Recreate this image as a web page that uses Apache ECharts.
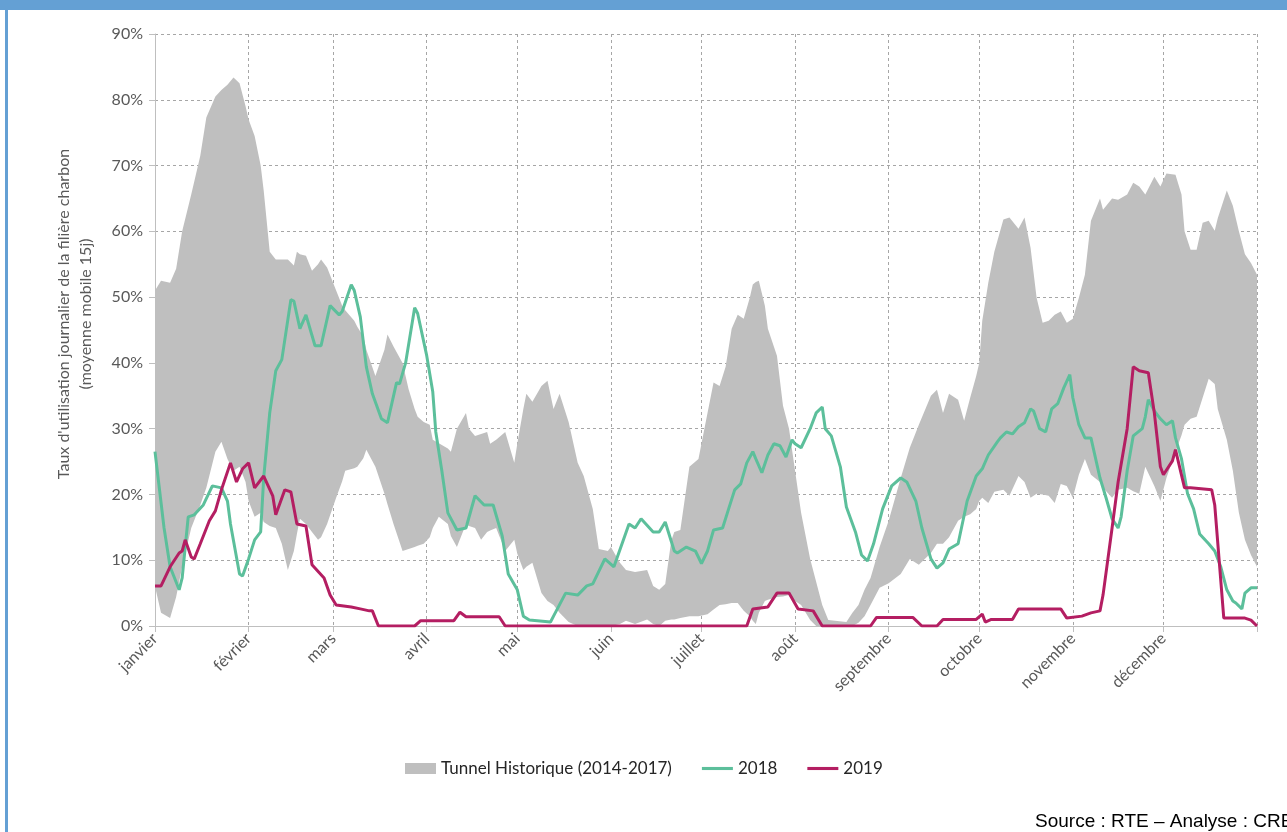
<!DOCTYPE html>
<html>
<head>
<meta charset="utf-8">
<style>
  html, body { margin: 0; padding: 0; background: #fff; }
  #main { width: 1287px; height: 832px; }
</style>
<script src="https://cdn.jsdelivr.net/npm/echarts@6/dist/echarts.min.js"></script>
</head>
<body>
<div id="main"></div>
<script>
var monthNames = ['janvier', 'février', 'mars', 'avril', 'mai', 'juin', 'juillet', 'août', 'septembre', 'octobre', 'novembre', 'décembre'];
var monthStarts = [0, 31, 59, 90, 120, 151, 181, 212, 243, 273, 304, 334];

// tunnel historique 2014-2017 (min / max), day of year
var tunnelDays = [0, 2, 5, 7, 9, 12, 15, 17, 20, 22, 24, 26, 28, 30, 31, 33, 35, 36, 38, 40, 42, 44, 46, 47, 48, 50, 52, 54, 55, 57,
  60, 62, 63, 66, 67, 69, 70, 73, 76, 77, 79, 82, 84, 86, 87, 89, 91, 92, 94, 97, 98, 100, 103, 104, 106, 108, 110, 111, 113, 116,
  119, 120, 122, 123, 125, 128, 130, 132, 134, 137, 140, 142, 145, 147, 150, 151, 154, 156, 159, 163, 165, 167, 169, 171, 172, 174, 177, 180,
  183, 185, 187, 189, 191, 193, 195, 197, 198, 199, 200, 202, 203, 206, 208, 210, 212, 214, 217, 219, 221, 223, 229, 231, 233, 235, 237,
  240, 243, 247, 250, 253, 257, 259, 261, 263, 266, 268, 270, 272, 273, 274, 276, 278, 281, 283, 286, 288, 290, 292, 294, 296, 298,
  300, 302, 304, 306, 308, 310, 313, 314, 317, 319, 322, 324, 326, 328, 331, 333, 335, 338, 340, 341, 343, 345, 347, 349, 351, 352,
  355, 357, 359, 361, 363, 365];
var tunnelHigh = [51, 52.5, 52.2, 54.3, 60, 65.6, 71.5, 77.3, 80.5, 81.5, 82.3, 83.4, 82.5, 79, 77, 74.5, 70, 66.2, 56.9, 55.7, 55.7, 55.7, 54.8, 56.9, 56.5, 56.3, 54, 55, 55.7, 54.5,
  51, 48.7, 48, 46.4, 45.5, 44, 42, 38, 42, 44.3, 42.5, 40, 36, 33, 31.8, 31, 30.6, 28.3, 27.8, 27, 26.5, 30, 32.4, 30, 28.9, 29.2, 29.5, 27.7, 28.3, 29.5,
  24.8, 27.7, 33, 35.3, 34.1, 36.5, 37.3, 33, 35.3, 31, 24.8, 22.8, 17.8, 11.7, 11.4, 12, 9.6, 8.5, 8.2, 8.5, 6.1, 5.5, 6.4, 13, 14.3, 14.6, 24.2, 25.4,
  32.4, 37, 36.5, 39.4, 45.2, 47.3, 46.7, 49.9, 51.9, 52.3, 52.5, 48.7, 45.2, 41.1, 33.5, 30, 23.6, 17.2, 10.2, 6.7, 3.2, 0.9, 0.6, 2, 3.2, 5.5, 7.3,
  12, 16, 22.5, 27.1, 30.6, 35, 35.9, 32.4, 35.3, 34.4, 31.2, 34.7, 38, 40, 46.4, 52.2, 56.9, 61.8, 62.1, 60.4, 62.1, 57.5, 49.9, 46.1, 46.4, 47.3,
  47.8, 46.1, 46.7, 49.9, 53.4, 61.6, 65, 63.3, 65, 64.8, 65.6, 67.4, 66.8, 65.6, 68.3, 66.8, 68.8, 68.6, 65.6, 60, 57.2, 57.2, 61.3, 61.6, 60.1, 62,
  66.2, 63.9, 60, 56.5, 55.2, 53.4];
var tunnelLow = [6, 2, 1.2, 4.4, 9, 14.9, 18.4, 21, 26.5, 28, 25.4, 23.6, 24.2, 21.9, 19, 16.6, 17.2, 15.8, 15.2, 14.9, 12.5, 8.5, 11.4, 14, 16.3, 15.5, 14.3, 13.1, 13.5, 15.5,
  19.5, 22, 23.6, 24, 24.2, 25.5, 26.8, 24.2, 20.1, 18.5, 15.5, 11.4, 11.7, 12, 12.2, 12.5, 13.5, 14.9, 16.6, 15.5, 13.7, 12, 15.5, 15.2, 14.9, 13.1, 14.3, 14.5, 14.9, 11.4,
  13.1, 11, 8.5, 9, 9.6, 5, 3.8, 3.2, 2, 0.6, 0, 0, 0, 0, 0, 0, 0.3, 0.8, 0.3, 1, 0.3, 0, 0.8, 1, 1, 1.2, 1.5, 1.5,
  1.8, 2.5, 3.2, 3.3, 3.5, 3.5, 2.3, 1.5, 0.8, 0.3, 2, 3.8, 4, 4.4, 4.5, 4.7, 3.8, 3.2, 0.9, 0, 0, 0, 0, 0, 0.5, 1.5, 3.2,
  5.8, 6.5, 7.9, 10.2, 9.3, 11.1, 12.5, 12.5, 13.5, 16, 16.6, 17, 17.8, 19, 19.5, 18.7, 20.4, 20.7, 19.8, 22.8, 21.9, 19.5, 20.1, 20, 19.8, 18.7,
  21.6, 21.3, 19.5, 23, 25.4, 23, 21.9, 21, 19.5, 20.7, 21, 20.5, 20.1, 24.2, 21.3, 19, 22.5, 26.5, 29, 30.6, 31.5, 31.8, 34.7, 37.6, 36.8, 33,
  28.3, 23.6, 17.2, 13.1, 10.8, 9];

var days2018 = [0, 3, 5, 8, 9, 11, 13, 16, 19, 22, 24, 25, 28, 29, 31, 33, 35, 36, 38, 40, 42, 45, 46, 48, 50, 53, 55, 58, 61, 62,
  65, 66, 68, 70, 72, 75, 77, 80, 81, 83, 86, 87, 90, 92, 93, 95, 97, 100, 103, 106, 109, 112, 115, 117, 120, 122, 124, 131, 132, 136,
  140, 143, 145, 149, 152, 157, 159, 161, 165, 167, 169, 172, 173, 176, 179, 181, 183, 185, 188, 190, 192, 194, 196, 198, 199, 201, 203, 205, 207, 209,
  211, 212, 214, 217, 219, 221, 222, 224, 227, 229, 232, 234, 236, 238, 241, 244, 247, 249, 252, 254, 257, 259, 261, 263, 266, 269, 272, 274, 276, 279,
  280, 282, 284, 286, 288, 290, 291, 293, 295, 297, 299, 301, 303, 304, 306, 308, 310, 313, 315, 317, 319, 320, 322, 324, 327, 328, 329, 331, 333, 335,
  337, 338, 340, 342, 344, 346, 349, 351, 353, 355, 357, 358, 360, 361, 363, 365];
var values2018 = [26.5, 14.9, 9, 5.5, 7.3, 16.6, 16.9, 18.4, 21.3, 21, 19, 15.5, 7.9, 7.6, 10.2, 13.1, 14.3, 22.5, 32.4, 38.8, 40.5, 49.6, 49.4, 45.2, 47.3, 42.6, 42.6, 48.7, 47.3, 47.8,
  51.9, 51, 47, 39.4, 35.3, 31.5, 30.9, 37, 36.8, 40, 48.4, 47.5, 41.1, 35.6, 29.5, 23.6, 17.2, 14.6, 14.9, 19.8, 18.4, 18.4, 13.7, 7.9, 5.5, 1.5, 0.9, 0.6, 1.5, 5,
  4.7, 6.1, 6.4, 10.2, 9, 15.5, 14.9, 16.3, 14.3, 14.3, 15.8, 11.4, 11.1, 12, 11.4, 9.5, 11.4, 14.6, 14.9, 17.8, 20.7, 21.6, 24.8, 26.5, 25.4, 23.3, 26, 27.7, 27.4, 25.7,
  28.3, 27.7, 27.1, 30, 32.4, 33.3, 30, 28.9, 24.2, 18.1, 14.3, 10.8, 9.9, 12.5, 17.8, 21.3, 22.5, 21.9, 19, 14.9, 10.2, 8.8, 9.6, 11.7, 12.5, 19, 22.8, 23.9, 26, 28,
  28.6, 29.5, 29.2, 30.3, 30.9, 33, 32.7, 30, 29.5, 33, 33.8, 36.2, 38.2, 34.7, 30.6, 28.6, 28.6, 22.5, 19.5, 16.3, 14.9, 16.6, 23.6, 28.9, 30, 31.8, 34.4, 32.7, 31.5, 30.6,
  31.2, 28.6, 25.4, 20.1, 17.8, 14, 12.5, 11.4, 9, 5.5, 3.8, 3.5, 2.6, 5, 5.8, 5.8];

var days2019 = [0, 2, 5, 8, 9, 10, 12, 13, 15, 18, 20, 22, 25, 27, 29, 31, 33, 36, 39, 40, 43, 45, 47, 50, 52, 56, 58, 60, 65, 68,
  71, 72, 74, 86, 88, 99, 101, 103, 114, 116, 196, 198, 203, 206, 210, 213, 218, 221, 237, 239, 251, 254, 259, 261, 272, 274, 275, 277, 284, 286,
  300, 302, 307, 310, 313, 314, 317, 319, 322, 324, 326, 329, 331, 333, 334, 337, 338, 341, 343, 350, 351, 354, 361, 363, 365];
var values2019 = [6.1, 6.1, 9, 11.1, 11.4, 13.1, 10.5, 10.2, 12.5, 16, 17.5, 20.7, 24.8, 21.9, 23.9, 24.8, 21, 22.8, 19.8, 16.9, 20.7, 20.4, 15.5, 15.2, 9.3, 7.3, 4.7, 3.2, 2.9, 2.6,
  2.3, 2.3, 0, 0, 0.8, 0.8, 2.1, 1.4, 1.4, 0, 0, 2.6, 2.9, 5, 5, 2.6, 2.3, 0, 0, 1.3, 1.3, 0, 0, 1, 1, 1.8, 0.6, 1, 1, 2.6,
  2.6, 1.2, 1.5, 2, 2.3, 4.7, 14.9, 21.9, 30, 39.4, 38.8, 38.5, 32.4, 24.2, 23, 25.1, 26.8, 21, 21, 20.7, 18.4, 1.2, 1.2, 0.9, 0];

function pairs(xs, ys) {
  return xs.map(function (d, i) { return [d, ys[i]]; });
}

// one category per day of the year, 0..365
var dayAxis = [];
for (var d = 0; d <= 365; d++) dayAxis.push(String(d));
var tickDays = monthStarts.concat([365]);

var chartDom = document.getElementById('main');
var myChart = echarts.init(chartDom);
var option;

var font = 'Lato, "Open Sans", sans-serif';
var gridDash = { color: '#a6a6a6', type: [3, 3], width: 1 };
var lineIcon = 'path://M0,0L30,0L30,3L0,3Z';

option = {
  animation: false,
  backgroundColor: '#fff',
  textStyle: { fontFamily: font },
  graphic: [
    { type: 'rect', left: 0, top: 0, shape: { width: 1287, height: 10 }, style: { fill: '#64a0d4' } },
    { type: 'rect', left: 5, top: 0, shape: { width: 3, height: 832 }, style: { fill: '#64a0d4' } },
    {
      type: 'text', left: 1035, top: 812,
      style: { text: 'Source : RTE – Analyse : CRE', fill: '#000', font: '19px "Liberation Sans", Arial, sans-serif' }
    }
  ],
  grid: { left: 155, right: 30, top: 34, bottom: 206 },
  legend: {
    left: 405,
    top: 760,
    padding: 0,
    itemWidth: 31,
    itemHeight: 11,
    itemGap: 30,
    textStyle: { fontSize: 17, color: '#262626', fontFamily: font },
    data: [
      { name: 'Tunnel Historique (2014-2017)', icon: 'rect' },
      { name: '2018', icon: lineIcon },
      { name: '2019', icon: lineIcon }
    ]
  },
  xAxis: {
    type: 'category',
    data: dayAxis,
    boundaryGap: false,
    axisLine: { lineStyle: { color: '#bfbfbf', width: 1 } },
    axisTick: {
      show: true,
      length: 6,
      lineStyle: { color: '#bfbfbf' },
      interval: function (index) { return tickDays.indexOf(index) >= 0; }
    },
    axisLabel: {
      rotate: 45,
      fontSize: 16,
      color: '#595959',
      margin: 10,
      interval: function (index) { return monthStarts.indexOf(index) >= 0; },
      formatter: function (value, index) {
        var i = monthStarts.indexOf(Number(value));
        return i >= 0 ? monthNames[i] : '';
      }
    },
    splitLine: {
      show: true,
      lineStyle: gridDash,
      interval: function (index) { return tickDays.indexOf(index) >= 0; }
    }
  },
  yAxis: {
    type: 'value',
    min: 0,
    max: 90,
    interval: 10,
    name: "Taux d'utilisation journalier de la filière charbon\n(moyenne mobile 15j)",
    nameLocation: 'middle',
    nameGap: 58,
    nameTextStyle: { fontSize: 16, color: '#595959', lineHeight: 22, padding: [0, 0, 0, 32] },
    axisLine: { show: true, lineStyle: { color: '#bfbfbf', width: 1 } },
    axisTick: { show: true, length: 6, lineStyle: { color: '#bfbfbf' } },
    axisLabel: { formatter: '{value}%', fontSize: 16, color: '#595959', margin: 12 },
    splitLine: { show: true, lineStyle: gridDash }
  },
  series: [
    {
      name: 'tunnel-bas',
      type: 'line',
      stack: 'tunnel',
      symbol: 'none',
      lineStyle: { width: 0, opacity: 0 },
      data: pairs(tunnelDays, tunnelLow),
      z: 1
    },
    {
      name: 'Tunnel Historique (2014-2017)',
      type: 'line',
      stack: 'tunnel',
      symbol: 'none',
      itemStyle: { color: '#bfbfbf' },
      lineStyle: { width: 0, opacity: 0 },
      areaStyle: { color: '#bfbfbf', opacity: 1 },
      data: pairs(tunnelDays, tunnelHigh.map(function (h, i) { return +(h - tunnelLow[i]).toFixed(2); })),
      z: 1
    },
    {
      name: '2018',
      type: 'line',
      symbol: 'none',
      itemStyle: { color: '#5cbf9b' },
      lineStyle: { color: '#5cbf9b', width: 3 },
      data: pairs(days2018, values2018),
      z: 3
    },
    {
      name: '2019',
      type: 'line',
      symbol: 'none',
      itemStyle: { color: '#b41e62' },
      lineStyle: { color: '#b41e62', width: 3 },
      data: pairs(days2019, values2019),
      z: 4
    }
  ]
};

option && myChart.setOption(option);
</script>
</body>
</html>
